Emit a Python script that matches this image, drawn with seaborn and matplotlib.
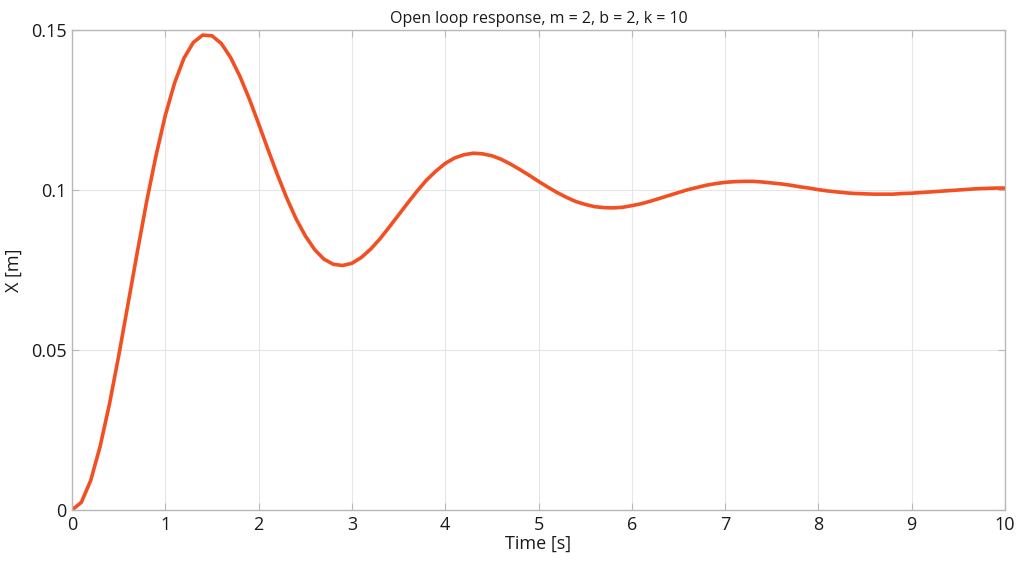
import numpy as np
import pandas as pd
import matplotlib
matplotlib.use('Agg')
import matplotlib.pyplot as plt
import seaborn as sns

# Time samples (s), step of 0.1 s as in the picture
time_s = [round(0.1 * i, 1) for i in range(101)]

# Displacement (m)
x_m = [
    0.0000, 0.0024, 0.0092, 0.0197, 0.0329, 0.0481, 0.0643, 0.0806, 0.0964, 0.1107,
    0.1233, 0.1335, 0.1412, 0.1461, 0.1484, 0.1482, 0.1458, 0.1414, 0.1355, 0.1285,
    0.1207, 0.1127, 0.1049, 0.0976, 0.0911, 0.0857, 0.0814, 0.0784, 0.0768, 0.0764,
    0.0771, 0.0789, 0.0815, 0.0847, 0.0884, 0.0922, 0.0960, 0.0997, 0.1031, 0.1059,
    0.1083, 0.1100, 0.1110, 0.1115, 0.1113, 0.1107, 0.1096, 0.1081, 0.1064, 0.1046,
    0.1027, 0.1009, 0.0992, 0.0977, 0.0964, 0.0955, 0.0948, 0.0945, 0.0944, 0.0946,
    0.0951, 0.0957, 0.0965, 0.0974, 0.0983, 0.0992, 0.1001, 0.1008, 0.1015, 0.1020,
    0.1024, 0.1026, 0.1027, 0.1027, 0.1025, 0.1022, 0.1019, 0.1015, 0.1010, 0.1006,
    0.1001, 0.0997, 0.0994, 0.0991, 0.0989, 0.0988, 0.0987, 0.0987, 0.0987, 0.0989,
    0.0990, 0.0992, 0.0994, 0.0996, 0.0998, 0.1000, 0.1002, 0.1004, 0.1005, 0.1006,
    0.1006,
]

x_ticks = [0, 1, 2, 3, 4, 5, 6, 7, 8, 9, 10]
y_ticks = [0, 0.05, 0.1, 0.15]
y_tick_labels = ['0', '0.05', '0.1', '0.15']

df = pd.DataFrame({'t': time_s, 'x': x_m})

sns.set_theme(style='white')
plt.rcParams['font.family'] = ['Open Sans', 'DejaVu Sans']

fig = plt.figure(figsize=(10.24, 5.64), dpi=100)
ax = fig.add_axes([72 / 1024, 1 - 510 / 564, (1005 - 72) / 1024, (510 - 30) / 564])

sns.lineplot(data=df, x='t', y='x', ax=ax, color='#F24F22', linewidth=2.6)

ax.set_xlim(0, 10)
ax.set_ylim(0, 0.15)
ax.set_xticks(x_ticks)
ax.set_xticklabels([str(v) for v in x_ticks])
ax.set_yticks(y_ticks)
ax.set_yticklabels(y_tick_labels)

ax.grid(True, color='#E6E6E6', linewidth=0.8)
ax.set_axisbelow(True)
for sp in ax.spines.values():
    sp.set_visible(True)
    sp.set_color('#B8B8B8')
    sp.set_linewidth(1.0)

ax.tick_params(axis='both', direction='in', length=5, width=0.8, color='#B8B8B8',
               labelsize=13, labelcolor='#1A1A1A', pad=4,
               top=True, right=True, bottom=True, left=True)

ax.set_xlabel('Time [s]', fontsize=13, color='#1A1A1A', labelpad=1)
ax.set_ylabel('X [m]', fontsize=13, color='#1A1A1A', labelpad=6)
ax.set_title('Open loop response, m = 2, b = 2, k = 10', fontsize=11.5, color='#1A1A1A', pad=5)

fig.savefig('out.png', dpi=100)
